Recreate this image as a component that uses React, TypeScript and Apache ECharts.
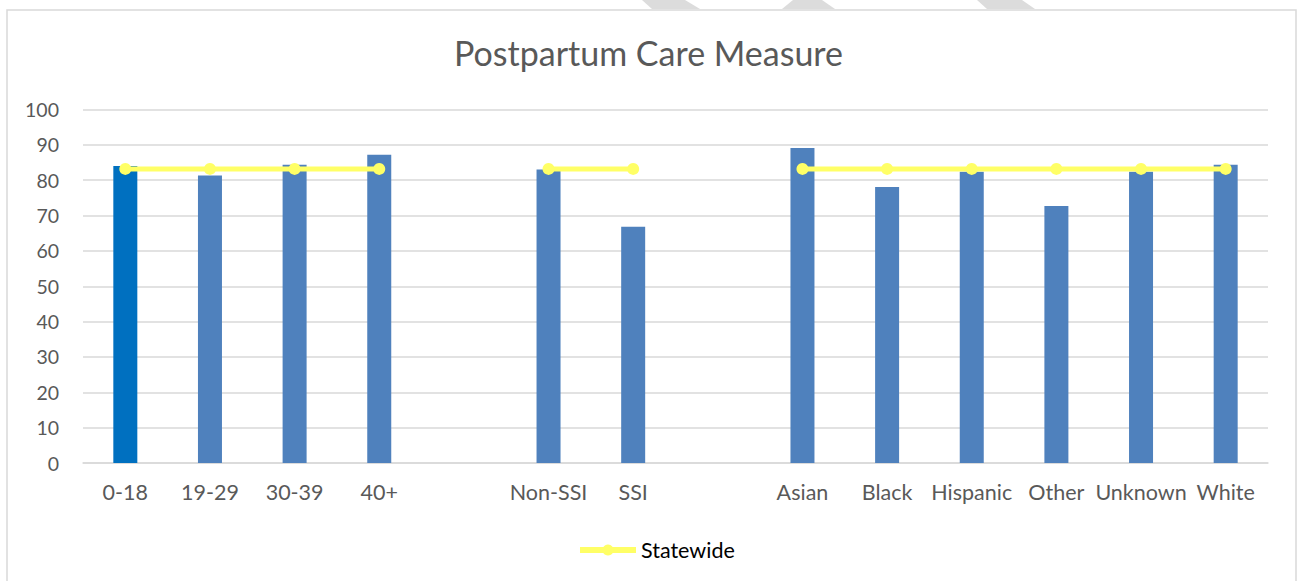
import React, { useEffect, useRef } from "react";
import * as echarts from "echarts";

const categories = ["0-18", "19-29", "30-39", "40+", "", "Non-SSI", "SSI", "", "Asian", "Black", "Hispanic", "Other", "Unknown", "White"];
const measureValues: (number | null)[] = [84.0, 81.3, 84.4, 87.2, null, 83.0, 66.8, null, 89.1, 78.1, 82.4, 72.7, 82.4, 84.4];
const statewideValues: (number | null)[] = [83.2, 83.2, 83.2, 83.2, null, 83.2, 83.2, null, 83.2, 83.2, 83.2, 83.2, 83.2, 83.2];
const yTicks = { min: 0, max: 100, interval: 10 };

const FONT = "Lato, 'Open Sans', sans-serif";

export default function App() {
  const ref = useRef<HTMLDivElement>(null);
  useEffect(() => {
    document.body.style.margin = "0";
    const chart = echarts.init(ref.current!, undefined, { renderer: "svg" });
    chart.setOption({
      animation: false,
      backgroundColor: "#ffffff",
      textStyle: { fontFamily: FONT },
      title: {
        text: "Postpartum Care Measure",
        left: "center",
        top: 30,
        textStyle: { fontFamily: FONT, fontSize: 34, fontWeight: "normal", color: "#595959" },
      },
      graphic: [
        { type: "rect", shape: { x: 7, y: 10, width: 1289, height: 590 }, style: { fill: "none", stroke: "#D9D9D9", lineWidth: 1.5 }, silent: true },
        { type: "polygon", shape: { points: [[642, 0], [685, 0], [700, 9], [652, 9]] }, style: { fill: "#DCDCDC" }, silent: true },
        { type: "polygon", shape: { points: [[793, 0], [822, 0], [835, 9], [782, 9]] }, style: { fill: "#DCDCDC" }, silent: true },
        { type: "polygon", shape: { points: [[977, 0], [1022, 0], [1035, 9], [987, 9]] }, style: { fill: "#DCDCDC" }, silent: true },
      ],
      legend: {
        data: [{ name: "Statewide" }],
        left: 572,
        top: 534,
        itemWidth: 56,
        itemHeight: 14,
        itemGap: 4,
        lineStyle: { width: 6 },
        textStyle: { fontFamily: FONT, fontSize: 21.5, color: "#000000" },
      },
      grid: { left: 83, right: 29, top: 109.5, bottom: 118, containLabel: false },
      xAxis: {
        type: "category",
        data: categories,
        axisLine: { lineStyle: { color: "#D9D9D9", width: 1.5 } },
        axisTick: { show: false },
        axisLabel: { color: "#595959", fontSize: 21.5, fontFamily: FONT, margin: 18, interval: 0 },
      },
      yAxis: {
        type: "value",
        min: yTicks.min,
        max: yTicks.max,
        interval: yTicks.interval,
        axisLine: { show: false },
        axisTick: { show: false },
        axisLabel: { color: "#595959", fontSize: 19.5, fontFamily: FONT, margin: 24 },
        splitLine: { lineStyle: { color: "#D9D9D9", width: 1.5 } },
      },
      series: [
        {
          name: "Measure",
          type: "bar",
          barWidth: 24,
          data: measureValues.map((v, i) => (i === 0 ? { value: v, itemStyle: { color: "#0070C0" } } : v)),
          itemStyle: { color: "#4F81BD" },
        },
        {
          name: "Statewide",
          type: "line",
          data: statewideValues,
          connectNulls: false,
          symbol: "circle",
          symbolSize: 12,
          lineStyle: { color: "#FFFF66", width: 5 },
          itemStyle: { color: "#FFFF66" },
        },
      ],
    });
    return () => chart.dispose();
  }, []);
  return <div ref={ref} style={{ width: 1297, height: 581 }} />;
}
